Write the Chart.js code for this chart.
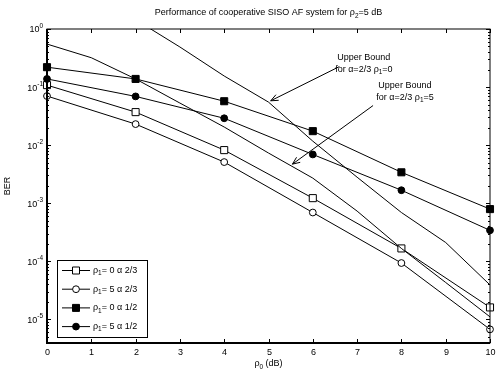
<!DOCTYPE html>
<html lang="en">
<head>
<meta charset="UTF-8">
<title>Performance of cooperative SISO AF system</title>
<script src="https://cdn.jsdelivr.net/npm/chart.js"></script>
<style>
  body { margin: 0; background: #fff; }
  .chart-box { width: 496px; height: 374px; }
</style>
</head>
<body>
<div class="chart-box"><canvas id="berChart"></canvas></div>
<script>
  // rho_0 (dB) where the simulated curves have markers
  const snr = [0, 2, 4, 6, 8, 10];
  const berRho0A23 = [0.108, 0.037, 0.0082, 0.00122, 1.66e-4, 1.6e-5];
  const berRho5A23 = [0.07, 0.023, 0.0051, 6.9e-4, 9.3e-5, 6.7e-6];
  const berRho0A12 = [0.22, 0.138, 0.057, 0.0174, 0.0034, 7.9e-4];
  const berRho5A12 = [0.138, 0.069, 0.029, 0.0069, 0.00167, 3.4e-4];

  // upper bound curves (no markers)
  const boundRho5Snr = [0, 1, 2, 3, 4, 5, 6, 7, 8, 9, 10];
  const boundRho5 = [0.55, 0.32, 0.138, 0.053, 0.0205, 0.0073, 0.0027, 7.3e-4, 1.66e-4, 4.3e-5, 1.1e-5];
  const boundRho0Snr = [2, 3, 4, 5, 6, 7, 8, 9, 10];
  const boundRho0 = [1.45, 0.49, 0.155, 0.055, 0.0117, 0.0028, 6.9e-4, 2.1e-4, 3.9e-5];

  const xTicks = [0, 1, 2, 3, 4, 5, 6, 7, 8, 9, 10];
  const yExponents = [0, -1, -2, -3, -4, -5];

  const FONT = '"Liberation Sans", Arial, sans-serif';

  const toPoints = (xs, ys) => xs.map((x, i) => ({ x: x, y: ys[i] }));

  // text pieces: [string, 'sub' | 'sup' | undefined]
  function richText(ctx, parts, x, y, align, size) {
    let w = 0;
    parts.forEach(p => {
      ctx.font = (p[1] ? size * 0.72 : size) + 'px ' + FONT;
      w += ctx.measureText(p[0]).width;
    });
    let cx = align === 'center' ? x - w / 2 : align === 'right' ? x - w : x;
    ctx.textAlign = 'left';
    ctx.textBaseline = 'middle';
    parts.forEach(p => {
      ctx.font = (p[1] ? size * 0.72 : size) + 'px ' + FONT;
      const dy = p[1] === 'sub' ? size * 0.32 : p[1] === 'sup' ? -size * 0.42 : 0;
      ctx.fillText(p[0], cx, y + dy);
      cx += ctx.measureText(p[0]).width;
    });
    return w;
  }

  function marker(ctx, style, filled, x, y) {
    ctx.save();
    ctx.lineWidth = 1;
    ctx.strokeStyle = '#000';
    ctx.fillStyle = filled ? '#000' : '#fff';
    ctx.beginPath();
    if (style === 'rect') ctx.rect(x - 3.5, y - 3.5, 7, 7);
    else ctx.arc(x, y, 3.4, 0, Math.PI * 2);
    ctx.fill();
    ctx.stroke();
    ctx.restore();
  }

  function arrow(ctx, x1, y1, x2, y2) {
    const a = Math.atan2(y2 - y1, x2 - x1);
    const len = 8, spread = 0.4;
    ctx.beginPath();
    ctx.moveTo(x1, y1);
    ctx.lineTo(x2, y2);
    ctx.moveTo(x2 - len * Math.cos(a - spread), y2 - len * Math.sin(a - spread));
    ctx.lineTo(x2, y2);
    ctx.lineTo(x2 - len * Math.cos(a + spread), y2 - len * Math.sin(a + spread));
    ctx.stroke();
  }

  const legendItems = [
    { style: 'rect', filled: false, rho: '0', alpha: '2/3' },
    { style: 'circle', filled: false, rho: '5', alpha: '2/3' },
    { style: 'rect', filled: true, rho: '0', alpha: '1/2' },
    { style: 'circle', filled: true, rho: '5', alpha: '1/2' }
  ];

  const notes = [
    { rho: '0', tx: 6.55, ty: 0.32, ax1: 6.6, ay1: 0.225, ax2: 5.05, ay2: 0.058 },
    { rho: '5', tx: 7.48, ty: 0.108, ax1: 7.36, ay1: 0.048, ax2: 5.54, ay2: 0.0047 }
  ];

  const framePlugin = {
    id: 'frame',
    afterDatasetsDraw(chart) {
      const ctx = chart.ctx;
      const a = chart.chartArea;
      const xs = chart.scales.x, ys = chart.scales.y;
      ctx.save();
      ctx.strokeStyle = '#000';
      ctx.fillStyle = '#000';

      // box
      ctx.lineWidth = 1;
      ctx.strokeRect(a.left, a.top, a.right - a.left, a.bottom - a.top);
      ctx.lineWidth = 2;
      ctx.beginPath();
      ctx.moveTo(a.left, a.top);
      ctx.lineTo(a.left, a.bottom);
      ctx.lineTo(a.right, a.bottom);
      ctx.stroke();
      ctx.lineWidth = 1;

      // x ticks and labels
      xTicks.forEach(t => {
        const px = Math.round(xs.getPixelForValue(t)) + 0.5;
        ctx.beginPath();
        ctx.moveTo(px, a.bottom); ctx.lineTo(px, a.bottom - 4);
        ctx.moveTo(px, a.top); ctx.lineTo(px, a.top + 4);
        ctx.stroke();
        richText(ctx, [[String(t)]], px, a.bottom + 10, 'center', 9);
      });

      // y ticks (major + minor) and labels
      yExponents.concat([-6]).forEach(e => {
        for (let m = 1; m <= 9; m++) {
          const v = m * Math.pow(10, e);
          if (v < ys.min || v > ys.max) continue;
          const py = Math.round(ys.getPixelForValue(v)) + 0.5;
          const len = m === 1 ? 4 : 2;
          ctx.beginPath();
          ctx.moveTo(a.left, py); ctx.lineTo(a.left + len, py);
          ctx.moveTo(a.right, py); ctx.lineTo(a.right - len, py);
          ctx.stroke();
        }
      });
      yExponents.forEach(e => {
        const py = ys.getPixelForValue(Math.pow(10, e));
        richText(ctx, [['10'], [String(e).replace('-', '-'), 'sup']], a.left - 4, py + 1, 'right', 9);
      });

      // titles
      richText(ctx, [['Performance of cooperative SISO AF system for \u03c1'], ['2', 'sub'], ['=5 dB']],
        (a.left + a.right) / 2, 13, 'center', 9);
      richText(ctx, [['\u03c1'], ['0', 'sub'], [' (dB)']], (a.left + a.right) / 2, 364, 'center', 9);
      ctx.save();
      ctx.translate(8, (a.top + a.bottom) / 2);
      ctx.rotate(-Math.PI / 2);
      richText(ctx, [['BER']], 0, 0, 'center', 9);
      ctx.restore();

      // annotations with arrows
      notes.forEach(n => {
        const tx = xs.getPixelForValue(n.tx), ty = ys.getPixelForValue(n.ty);
        richText(ctx, [['Upper Bound']], tx, ty, 'left', 9);
        richText(ctx, [['for \u03b1=2/3 \u03c1'], ['1', 'sub'], ['=' + n.rho]], tx - 2, ty + 12, 'left', 9);
        arrow(ctx, xs.getPixelForValue(n.ax1), ys.getPixelForValue(n.ay1),
          xs.getPixelForValue(n.ax2), ys.getPixelForValue(n.ay2));
      });

      // legend
      const lx = a.left + 10, ly = a.bottom - 83;
      ctx.fillStyle = '#fff';
      ctx.fillRect(lx, ly, 90, 77);
      ctx.fillStyle = '#000';
      ctx.strokeRect(lx + 0.5, ly + 0.5, 90, 77);
      legendItems.forEach((it, i) => {
        const y = ly + 10.5 + i * 18.7;
        ctx.beginPath();
        ctx.moveTo(lx + 5, y); ctx.lineTo(lx + 33, y);
        ctx.stroke();
        marker(ctx, it.style, it.filled, lx + 19, y);
        richText(ctx, [['\u03c1'], ['1', 'sub'], ['= ' + it.rho + ' \u03b1 ' + it.alpha]], lx + 36, y, 'left', 9);
      });
      ctx.restore();
    }
  };

  const markerSet = (label, data, style, filled) => ({
    label: label,
    data: toPoints(snr, data),
    borderColor: '#000',
    borderWidth: 1,
    backgroundColor: filled ? '#000' : '#fff',
    pointStyle: style,
    pointRadius: style === 'rect' ? 5 : 3.4,
    pointBorderWidth: 1,
    pointBorderColor: '#000',
    pointBackgroundColor: filled ? '#000' : '#fff',
    tension: 0,
    clip: { left: 8, right: 8, top: 0, bottom: 0 }
  });

  const boundSet = (label, xs, ys) => ({
    label: label,
    data: toPoints(xs, ys),
    borderColor: '#000',
    borderWidth: 1,
    pointRadius: 0,
    tension: 0,
    clip: 0
  });

  new Chart(document.getElementById('berChart'), {
    type: 'line',
    data: {
      datasets: [
        boundSet('Upper Bound rho1=0', boundRho0Snr, boundRho0),
        boundSet('Upper Bound rho1=5', boundRho5Snr, boundRho5),
        markerSet('rho1=0 a=1/2', berRho0A12, 'rect', true),
        markerSet('rho1=5 a=1/2', berRho5A12, 'circle', true),
        markerSet('rho1=0 a=2/3', berRho0A23, 'rect', false),
        markerSet('rho1=5 a=2/3', berRho5A23, 'circle', false)
      ]
    },
    options: {
      responsive: true,
      maintainAspectRatio: false,
      animation: false,
      layout: { padding: { left: 47, right: 5, top: 29, bottom: 31 } },
      plugins: { legend: { display: false }, tooltip: { enabled: false }, title: { display: false } },
      scales: {
        x: { type: 'linear', min: 0, max: 10, display: false },
        y: { type: 'logarithmic', min: 3.9e-6, max: 1, display: false }
      }
    },
    plugins: [framePlugin]
  });
</script>
</body>
</html>
